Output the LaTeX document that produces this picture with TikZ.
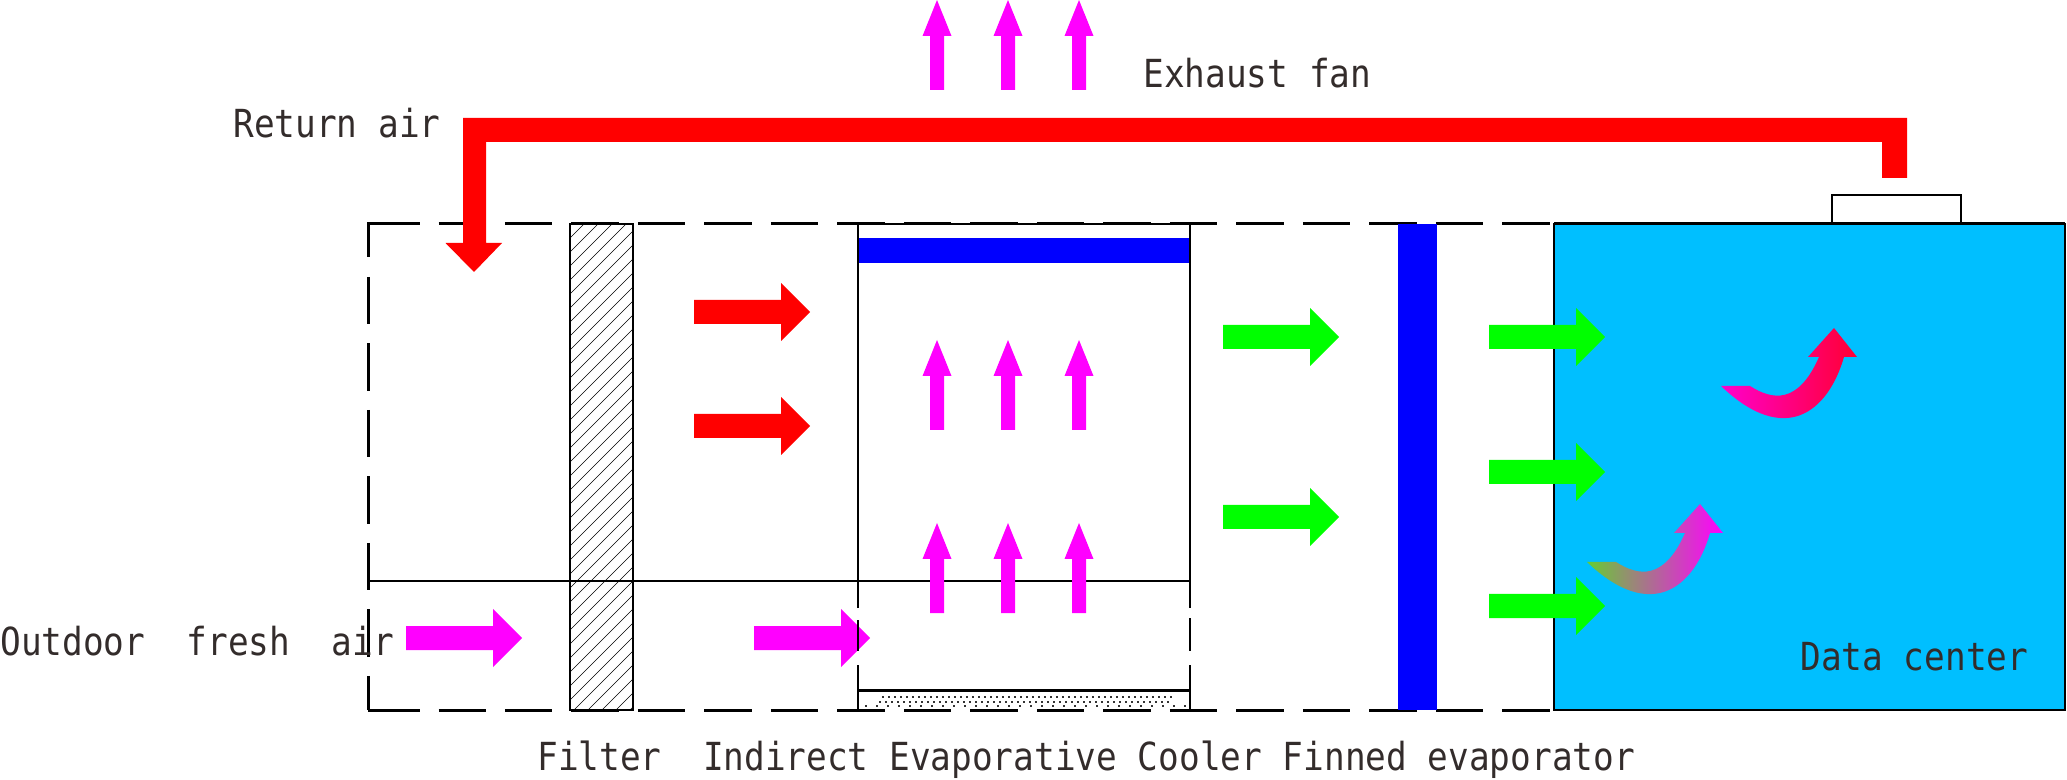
\documentclass[tikz,border=0pt]{standalone}
\usepackage{fontspec}
\usepackage{xcolor}
\setmainfont{DejaVu Sans Mono}[FakeStretch=0.89]
\definecolor{datablue}{HTML}{00BFFF}
\definecolor{labelgray}{HTML}{332C2B}
\definecolor{mossgreen}{HTML}{66CC33}
\definecolor{pinkred}{HTML}{FF0033}
\definecolor{hotpink}{HTML}{FF00CC}
\definecolor{freshair}{HTML}{FF00FF}
\definecolor{coldair}{HTML}{00FF00}

% block arrows: colour, tail x, centre y
\newcommand{\arrowright}[3]{\fill[#1] (#2,#3-12) -- ++(87,0) -- ++(0,-17) -- ++(29,29) -- ++(-29,29) -- ++(0,-17) -- ++(-87,0) -- cycle;}
% upward arrows: centre x, tip y
\newcommand{\arrowup}[2]{\fill[freshair] (#1,#2) -- ++(14.5,36) -- ++(-7.5,0) -- ++(0,54) -- ++(-14,0) -- ++(0,-54) -- ++(-7.5,0) -- cycle;}

\tikzset{
	wall/.style={black, line width=0.06cm},
	thinwall/.style={black, line width=0.04cm},
	dashwall/.style={wall, dash pattern=on 0.95cm off 0.38cm},
	labeltext/.style={anchor=base west, inner sep=0pt, text=labelgray, font=\fontsize{22}{24}\selectfont}
}

\begin{document}
\begin{tikzpicture}[x=0.02cm, y=-0.02cm]
	\useasboundingbox (0,0) rectangle (2067,780);

	% Data center room and the box on its roof
	\fill[datablue] (1554,224) rectangle (2065,710);
	\draw[thinwall] (1832,224) -- (1832,195) -- (1961,195) -- (1961,224);

	% Fresh air arrows sit under the cooler walls
	\arrowright{freshair}{406}{638}
	\arrowright{freshair}{754}{638}

	% Casing: corners solid, the rest dashed
	\draw[wall] (368,257) -- (368,224) -- (420,224);
	\draw[dashwall] (438.5,224) -- (1554,224);
	\draw[dashwall] (368,277) -- (368,710);
	\draw[wall] (368,710) -- (420,710);
	\draw[dashwall] (438.5,710) -- (1554,710);
	\draw[thinwall] (1554,224) -- (2065,224) -- (2065,710) -- (1554,710) -- cycle;
	\draw[wall] (1554,224) -- (2065,224);

	% Filter with hatching
	\begin{scope}
		\clip (570,224) rectangle (633,710);
		\foreach \k in {0,...,39} {
			\draw[black, line width=0.01cm] (570,224+14*\k) -- ++(64,-64);
		}
	\end{scope}
	\draw[thinwall] (570,224) rectangle (633,710);

	% Indirect cooler
	\fill[blue] (858,238) rectangle (1190,263);
	\draw[thinwall] (858,608) -- (858,224) -- (1190,224) -- (1190,608);
	\draw[thinwall] (858,620) -- (858,651) (858,665) -- (858,710);
	\draw[thinwall] (1190,618) -- (1190,651) (1190,665) -- (1190,710);
	\draw[wall] (368,581) -- (858,581);
	\draw[thinwall] (858,581) -- (1190,581);
	\draw[wall] (858,690) -- (1190,690);

	% Water in the sump
	\foreach \x in {882,888,...,1170} {
		\fill[black!80] (\x,696) rectangle ++(2,2);
		\fill[black!80] (\x-3,701) rectangle ++(2,2);
	}
	\foreach \x in {865,876,...,1185} {
		\fill[black!80] (\x,705) rectangle ++(2,2);
	}

	% Finned evaporator
	\fill[blue] (1398,224) rectangle (1437,710);

	% Return air duct
	\fill[red] (463,118) -- (1907,118) -- (1907,178) -- (1882,178) -- (1882,142) -- (486,142)
		-- (486,243) -- (502,243) -- (474,272) -- (445.5,243) -- (463,243) -- cycle;

	% Air flows
	\foreach \y in {312,426} {
		\arrowright{red}{694}{\y}
	}
	\foreach \x/\y in {1223/337, 1223/517, 1489/337, 1489/472, 1489/606} {
		\arrowright{coldair}{\x}{\y}
	}
	\foreach \x in {937,1008,1079} {
		\foreach \y in {0,340,523} {
			\arrowup{\x}{\y}
		}
	}

	% Warm air rising from the racks
	\foreach \dx/\dy/\colA/\colB in {0/0/hotpink/pinkred, -134/176/mossgreen/freshair} {
		\begin{scope}[shift={(\dx,\dy)}]
			\shade[left color=\colA, right color=\colB] (1721,386) -- (1750,386)
				.. controls (1772,400) and (1798,405) .. (1819,357) -- (1808,357) -- (1834,328)
				-- (1857,357) -- (1844,357) .. controls (1828,412) and (1785,447) .. (1721,386) -- cycle;
		\end{scope}
	}

	% Labels
	\node[labeltext] (exhaust) at (1143,88) {Exhaust fan};
	\node[labeltext] (return) at (233,138) {Return air};
	\node[labeltext] (outdoor) at (0,655) {Outdoor\ \ fresh\ \ air};
	\node[labeltext] (center) at (1800,670) {Data center};
	\node[labeltext] (parts) at (537,770) {Filter\ \ Indirect Evaporative Cooler Finned evaporator};
\end{tikzpicture}
\end{document}
